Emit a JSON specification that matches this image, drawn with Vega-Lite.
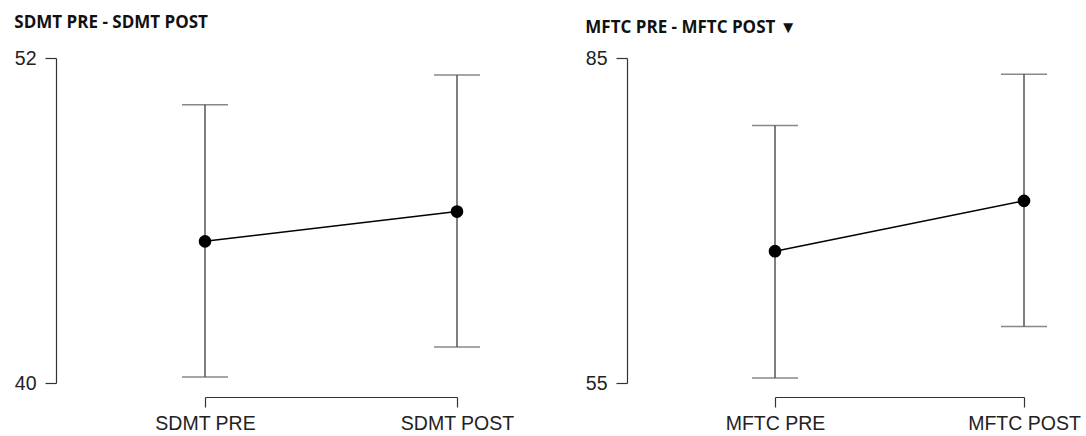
{
  "$schema": "https://vega.github.io/schema/vega-lite/v6.json",
  "padding": {"left": 14, "top": 14, "right": 5, "bottom": 0},
  "background": "white",
  "config": {
    "view": {"stroke": null},
    "font": "Liberation Sans",
    "axis": {"grid": false, "domainColor": "#333333", "tickColor": "#333333", "labelColor": "#222222", "labelFontSize": 19.5, "labelFont": "Liberation Sans", "domainWidth": 1.2, "tickWidth": 1.2, "title": null},
    "title": {"font": "Open Sans", "fontWeight": "bold", "fontSize": 17, "color": "#111111", "anchor": "start", "frame": "bounds"}
  },
  "datasets": {
    "desc": [
      {"panel": "SDMT", "cond": "SDMT PRE", "mean": 45.23, "lower": 40.22, "upper": 50.27},
      {"panel": "SDMT", "cond": "SDMT POST", "mean": 46.33, "lower": 41.33, "upper": 51.37},
      {"panel": "MFTC", "cond": "MFTC PRE", "mean": 67.17, "lower": 55.47, "upper": 78.78},
      {"panel": "MFTC", "cond": "MFTC POST", "mean": 71.81, "lower": 60.21, "upper": 83.51}
    ]
  },
  "spacing": 29,
  "hconcat": [
    {
      "title": {"text": "SDMT PRE - SDMT POST", "offset": 16},
      "width": 500,
      "height": 325,
      "data": {"name": "desc"},
      "transform": [{"filter": "datum.panel === 'SDMT'"}],
      "encoding": {
        "x": {"field": "cond", "type": "ordinal", "sort": ["SDMT PRE", "SDMT POST"],
              "scale": {"type": "point", "range": [149, 401], "padding": 0},
              "axis": {"labelAngle": 0, "offset": 14, "tickSize": 10, "labelPadding": 7}},
        "y": {"type": "quantitative"}
      },
      "layer": [
        {"mark": {"type": "rule", "color": "#555555", "strokeWidth": 1.5},
         "encoding": {"y": {"field": "lower", "type": "quantitative",
                            "scale": {"domain": [40, 52], "nice": false, "zero": false},
                            "axis": {"values": [40, 52], "tickSize": 11, "labelPadding": 9}},
                      "y2": {"field": "upper"}}},
        {"mark": {"type": "tick", "color": "#555555", "thickness": 1.5, "size": 46},
         "encoding": {"y": {"field": "lower", "type": "quantitative"}}},
        {"mark": {"type": "tick", "color": "#555555", "thickness": 1.5, "size": 46},
         "encoding": {"y": {"field": "upper", "type": "quantitative"}}},
        {"mark": {"type": "line", "color": "#000000", "strokeWidth": 1.5},
         "encoding": {"y": {"field": "mean", "type": "quantitative"}}},
        {"mark": {"type": "point", "filled": true, "color": "#000000", "size": 160, "opacity": 1},
         "encoding": {"y": {"field": "mean", "type": "quantitative"}}}
      ]
    },
    {
      "title": {"text": "MFTC PRE - MFTC POST ▼", "offset": 11},
      "width": 450,
      "height": 325,
      "data": {"name": "desc"},
      "transform": [{"filter": "datum.panel === 'MFTC'"}],
      "encoding": {
        "x": {"field": "cond", "type": "ordinal", "sort": ["MFTC PRE", "MFTC POST"],
              "scale": {"type": "point", "range": [148, 397], "padding": 0},
              "axis": {"labelAngle": 0, "offset": 14, "tickSize": 10, "labelPadding": 7}},
        "y": {"type": "quantitative"}
      },
      "layer": [
        {"mark": {"type": "rule", "color": "#555555", "strokeWidth": 1.5},
         "encoding": {"y": {"field": "lower", "type": "quantitative",
                            "scale": {"domain": [55, 85], "nice": false, "zero": false},
                            "axis": {"values": [55, 85], "tickSize": 11, "labelPadding": 9}},
                      "y2": {"field": "upper"}}},
        {"mark": {"type": "tick", "color": "#555555", "thickness": 1.5, "size": 46},
         "encoding": {"y": {"field": "lower", "type": "quantitative"}}},
        {"mark": {"type": "tick", "color": "#555555", "thickness": 1.5, "size": 46},
         "encoding": {"y": {"field": "upper", "type": "quantitative"}}},
        {"mark": {"type": "line", "color": "#000000", "strokeWidth": 1.5},
         "encoding": {"y": {"field": "mean", "type": "quantitative"}}},
        {"mark": {"type": "point", "filled": true, "color": "#000000", "size": 160, "opacity": 1},
         "encoding": {"y": {"field": "mean", "type": "quantitative"}}}
      ]
    }
  ]
}
